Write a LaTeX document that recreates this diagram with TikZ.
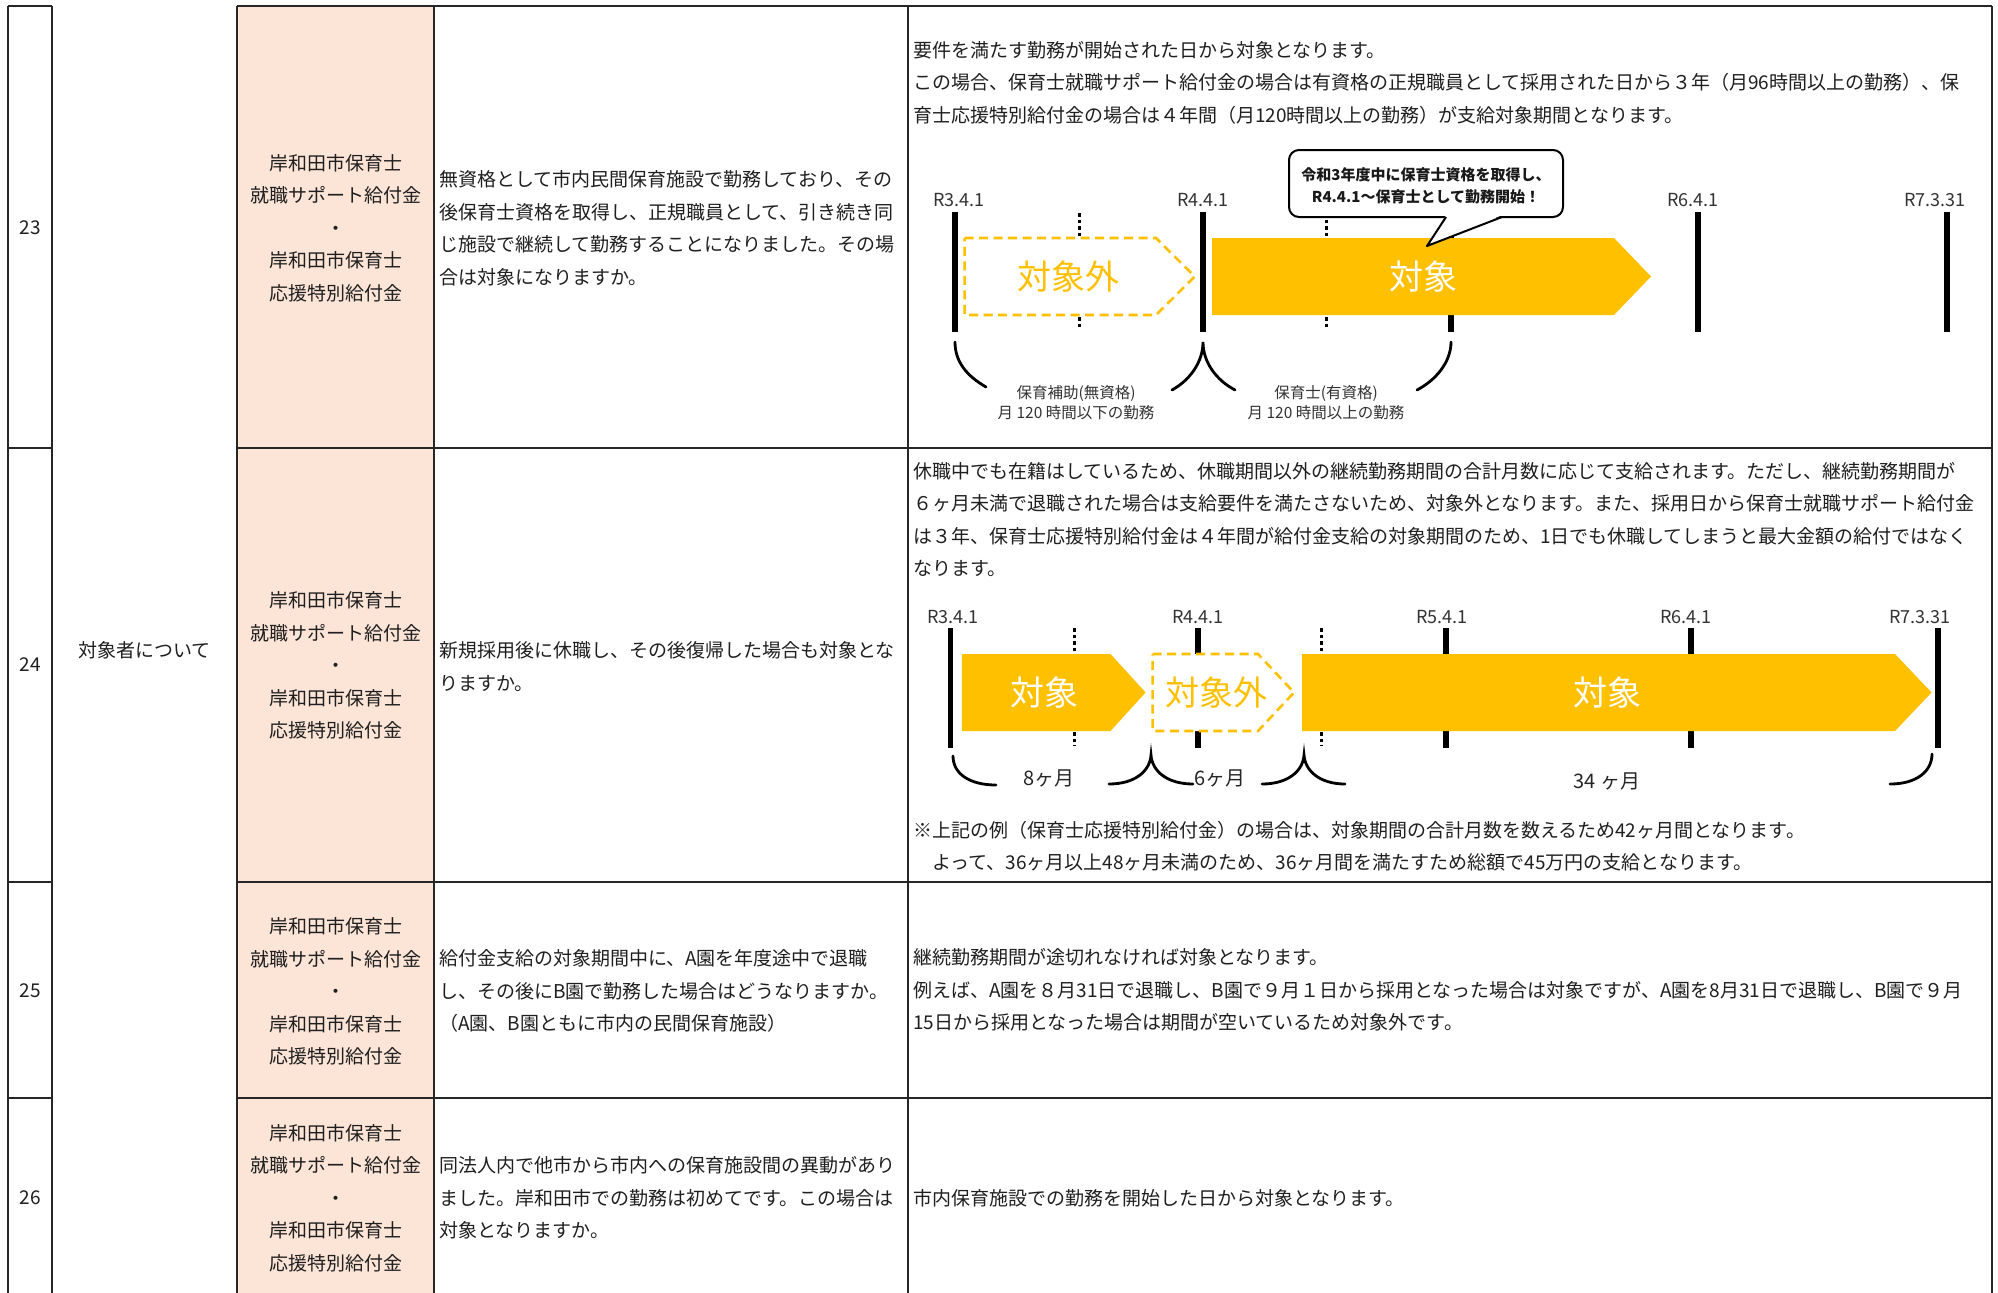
\documentclass[tikz,border=0pt]{standalone}
\usepackage{fontspec}
\setmainfont{Noto Sans CJK JP}
\definecolor{ky}{HTML}{FFC000}
\definecolor{pk}{HTML}{FCE4D6}
\definecolor{ln}{HTML}{262626}
\tikzset{
  txt/.style={inner sep=0pt, outer sep=0pt, font=\fontsize{19}{32.5}\selectfont, text=black!88},
  lt/.style={txt, align=left, anchor=west},
  ct/.style={txt, align=center, anchor=center},
  datelbl/.style={inner sep=0pt, font=\fontsize{18}{18}\selectfont, text=black!80},
  bartxt/.style={inner sep=0pt, font=\fontsize{34}{34}\selectfont},
  smalllbl/.style={inner sep=0pt, align=center, font=\fontsize{15.5}{20}\selectfont, text=black!80},
  monlbl/.style={inner sep=0pt, font=\fontsize{20}{20}\selectfont, text=black!85},
  solidbar/.style={line width=5.5pt, black},
  dotbar/.style={line width=3pt, black, dash pattern=on 3.5pt off 3pt},
  fullarrow/.style={fill=ky},
  dasharrow/.style={draw=ky, fill=white, line width=2.6pt, dash pattern=on 9pt off 5.5pt},
  bracecurve/.style={line width=2.8pt, black, line cap=round},
  hline/.style={line width=2pt, ln},
  vline/.style={line width=1.4pt, ln},
  calloutbox/.style={line width=2pt, black, fill=white, rounded corners=10pt},
}
\begin{document}
\begin{tikzpicture}[x=1pt,y=-1pt]
\useasboundingbox (0,0) rectangle (1998,1293);
\fill[white] (0,0) rectangle (1998,1293);
\fill[pk] (237,6) rectangle (434,1293);

% ---- left columns ----
\node[ct] (n23) at (30,228) {23};
\node[ct] (n24) at (30,665) {24};
\node[ct] (n25) at (30,991) {25};
\node[ct] (n26) at (30,1198) {26};
\node[ct] (cat) at (144.5,650) {対象者について};

\node[ct] (p23) at (335.5,228) {岸和田市保育士\\就職サポート給付金\\・\\岸和田市保育士\\応援特別給付金};
\node[ct] (p24) at (335.5,665.5) {岸和田市保育士\\就職サポート給付金\\・\\岸和田市保育士\\応援特別給付金};
\node[ct] (p25) at (335.5,991.4) {岸和田市保育士\\就職サポート給付金\\・\\岸和田市保育士\\応援特別給付金};
\node[ct] (p26) at (335.5,1198) {岸和田市保育士\\就職サポート給付金\\・\\岸和田市保育士\\応援特別給付金};

\node[lt] (q23) at (439,228.5) {無資格として市内民間保育施設で勤務しており、その\\後保育士資格を取得し、正規職員として、引き続き同\\じ施設で継続して勤務することになりました。その場\\合は対象になりますか。};
\node[lt] (q24) at (439,666.5) {新規採用後に休職し、その後復帰した場合も対象とな\\りますか。};
\node[lt] (q25) at (439,991) {給付金支給の対象期間中に、A園を年度途中で退職\\し、その後にB園で勤務した場合はどうなりますか。\\（A園、B園ともに市内の民間保育施設）};
\node[lt] (q26) at (439,1198) {同法人内で他市から市内への保育施設間の異動があり\\ました。岸和田市での勤務は初めてです。この場合は\\対象となりますか。};

% ---- answers ----
\node[lt] (a23) at (913,82.5) {要件を満たす勤務が開始された日から対象となります。\\この場合、保育士就職サポート給付金の場合は有資格の正規職員として採用された日から３年（月96時間以上の勤務）、保\\育士応援特別給付金の場合は４年間（月120時間以上の勤務）が支給対象期間となります。};
\node[lt] (a24) at (913,519.5) {休職中でも在籍はしているため、休職期間以外の継続勤務期間の合計月数に応じて支給されます。ただし、継続勤務期間が\\６ヶ月未満で退職された場合は支給要件を満たさないため、対象外となります。また、採用日から保育士就職サポート給付金\\は３年、保育士応援特別給付金は４年間が給付金支給の対象期間のため、1日でも休職してしまうと最大金額の給付ではなく\\なります。};
\node[lt] (a24n) at (913,846) {※上記の例（保育士応援特別給付金）の場合は、対象期間の合計月数を数えるため42ヶ月間となります。\\　よって、36ヶ月以上48ヶ月未満のため、36ヶ月間を満たすため総額で45万円の支給となります。};
\node[lt] (a25) at (913,990) {継続勤務期間が途切れなければ対象となります。\\例えば、A園を８月31日で退職し、B園で９月１日から採用となった場合は対象ですが、A園を8月31日で退職し、B園で９月\\15日から採用となった場合は期間が空いているため対象外です。};
\node[lt] (a26) at (913,1198) {市内保育施設での勤務を開始した日から対象となります。};

% ---- timeline, row 23 ----
\foreach \x in {955,1203,1451,1698,1947} \draw[solidbar] (\x,212) -- (\x,332);
\foreach \x in {1079,1326} \draw[dotbar] (\x,213) -- (\x,330);
\draw[dasharrow] (964.6,238) -- (1156,238) -- (1194.7,276.5) -- (1156,315) -- (964.6,315) -- cycle;
\fill[fullarrow] (1212,238) -- (1614,238) -- (1651,276.5) -- (1614,315) -- (1212,315) -- cycle;
\node[bartxt, text=ky] (o23) at (1068,277) {対象外};
\node[bartxt, text=white] (t23) at (1423,277) {対象};
\node[datelbl] (d23a) at (959,200) {R3.4.1};
\node[datelbl] (d23b) at (1203,200) {R4.4.1};
\node[datelbl] (d23c) at (1693,200) {R6.4.1};
\node[datelbl] (d23d) at (1935,200) {R7.3.31};
% callout
\draw[calloutbox] (1289,150) rectangle (1563,217);
\fill[white] (1446,215.2) -- (1502,215.2) -- (1427,246) -- cycle;
\draw[line width=2pt, line join=round] (1446,217) -- (1427,246) -- (1502,217);
\node[inner sep=0pt, align=center, font=\bfseries\fontsize{15}{22}\selectfont, text=black!90] (co) at (1426,186) {令和3年度中に保育士資格を取得し、\\R4.4.1～保育士として勤務開始！};
% braces
\draw[bracecurve] (955,342) .. controls (955,362) and (967,376) .. (986,387);
\draw[bracecurve] (1172,390) .. controls (1190,380) and (1203,362) .. (1203,342) .. controls (1203,362) and (1216,380) .. (1235,390);
\draw[bracecurve] (1417,390) .. controls (1436,380) and (1451,362) .. (1451,342);
\node[smalllbl] (b23a) at (1076,403) {保育補助(無資格)\\月 120 時間以下の勤務};
\node[smalllbl] (b23b) at (1326,403) {保育士(有資格)\\月 120 時間以上の勤務};

% ---- timeline, row 24 ----
\foreach \x in {950.5,1198,1446,1691,1938} \draw[solidbar] (\x,628) -- (\x,748);
\foreach \x in {1074,1321} \draw[dotbar] (\x,628) -- (\x,746);
\fill[fullarrow] (961.8,654) -- (1110.5,654) -- (1145.6,692.5) -- (1110.5,731) -- (961.8,731) -- cycle;
\draw[dasharrow] (1152.6,654) -- (1258,654) -- (1294,692.5) -- (1258,731) -- (1152.6,731) -- cycle;
\fill[fullarrow] (1302,654) -- (1895,654) -- (1931.6,692.5) -- (1895,731) -- (1302,731) -- cycle;
\node[bartxt, text=white] (t24a) at (1044,693) {対象};
\node[bartxt, text=ky] (o24) at (1216,693) {対象外};
\node[bartxt, text=white] (t24b) at (1607,693) {対象};
\node[datelbl] (d24a) at (953,617) {R3.4.1};
\node[datelbl] (d24b) at (1198,617) {R4.4.1};
\node[datelbl] (d24c) at (1442,617) {R5.4.1};
\node[datelbl] (d24d) at (1686,617) {R6.4.1};
\node[datelbl] (d24e) at (1920,617) {R7.3.31};
\draw[bracecurve] (953,756) .. controls (953,774) and (970,785) .. (996,785);
\draw[bracecurve] (1109,784) .. controls (1135,784) and (1150,771) .. (1151,755) .. controls (1152,771) and (1167,784) .. (1193,784);
\draw[bracecurve] (1262,784) .. controls (1288,784) and (1303,771) .. (1304,755) .. controls (1305,771) and (1320,784) .. (1345,784);
\draw[bracecurve] (1890,784) .. controls (1917,784) and (1932,771) .. (1932,754);
\node[monlbl] (m8) at (1049,778) {8ヶ月};
\node[monlbl] (m6) at (1220,778) {6ヶ月};
\node[monlbl] (m34) at (1607,781) {34 ヶ月};

% ---- grid ----
\foreach \y in {6,448,882,1098} {
  \draw[hline] (8,\y) -- (52,\y);
  \draw[hline] (237,\y) -- (1992,\y);
}
\foreach \x in {8,52,237,434,908,1992} \draw[vline] (\x,6) -- (\x,1293);
\end{tikzpicture}
\end{document}
